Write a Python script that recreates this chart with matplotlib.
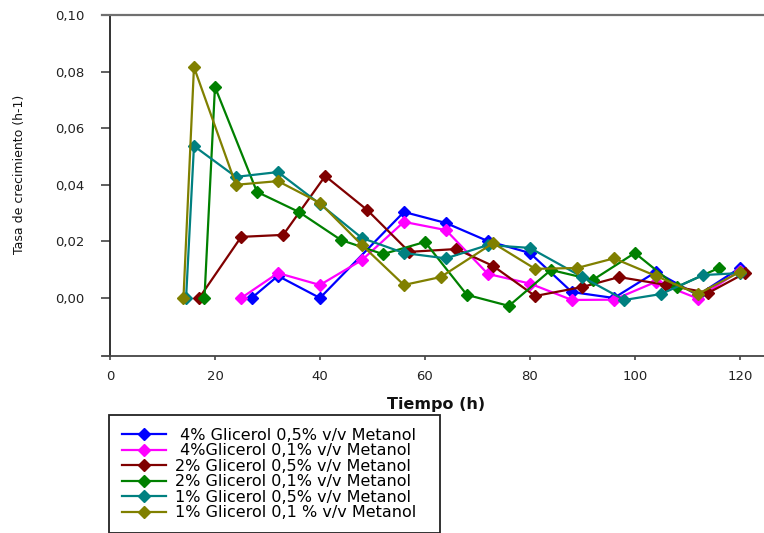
import matplotlib
matplotlib.use('Agg')
import matplotlib.pyplot as plt

# Tasa de crecimiento por condicion de cultivo
t_4g05 = [27, 32, 40, 56, 64, 72, 80, 88, 96, 104, 112, 120]
mu_4g05 = [0.0, 0.0078, 0.0, 0.0304, 0.0265, 0.0201, 0.0159, 0.0021, 0.0, 0.0092, 0.001, 0.0106]

t_4g01 = [25, 32, 40, 48, 56, 64, 72, 80, 88, 96, 104, 112, 120]
mu_4g01 = [0.0, 0.0088, 0.0046, 0.0134, 0.0269, 0.0240, 0.0085, 0.0051, -0.0007, -0.0006, 0.0057, -0.0002, 0.0097]

t_2g05 = [17, 25, 33, 41, 49, 57, 66, 73, 81, 90, 97, 106, 114, 121]
mu_2g05 = [0.0, 0.0216, 0.0223, 0.0431, 0.0311, 0.0163, 0.0173, 0.0113, 0.0007, 0.0039, 0.0074, 0.0046, 0.0018, 0.0088]

t_2g01 = [18, 20, 28, 36, 44, 52, 60, 68, 76, 84, 92, 100, 108, 116]
mu_2g01 = [0.0, 0.0746, 0.0375, 0.0304, 0.0205, 0.0155, 0.0198, 0.0011, -0.0028, 0.0099, 0.0064, 0.0159, 0.0039, 0.0106]

t_1g05 = [14.5, 16, 24, 32, 40, 48, 56, 64, 72, 80, 90, 98, 105, 113, 120]
mu_1g05 = [0.0, 0.0537, 0.0428, 0.0445, 0.0332, 0.0212, 0.0159, 0.0140, 0.0187, 0.0177, 0.0074, -0.0007, 0.0014, 0.0081, 0.0088]

t_1g01 = [14, 16, 24, 32, 40, 48, 56, 63, 73, 81, 89, 96, 104, 112, 120]
mu_1g01 = [0.0, 0.0816, 0.040, 0.0413, 0.0336, 0.0187, 0.0046, 0.0074, 0.0194, 0.0103, 0.0106, 0.0140, 0.0078, 0.0014, 0.0092]

etiquetas = [' 4% Glicerol 0,5% v/v Metanol',
             ' 4%Glicerol 0,1% v/v Metanol',
             '2% Glicerol 0,5% v/v Metanol',
             '2% Glicerol 0,1% v/v Metanol',
             '1% Glicerol 0,5% v/v Metanol',
             '1% Glicerol 0,1 % v/v Metanol']
colores = ['#0000ff', '#ff00ff', '#800000', '#008000', '#008080', '#808000']

series = [(t_4g05, mu_4g05), (t_4g01, mu_4g01), (t_2g05, mu_2g05),
          (t_2g01, mu_2g01), (t_1g05, mu_1g05), (t_1g01, mu_1g01)]

W, H = 764, 533
fig = plt.figure(figsize=(W / 100, H / 100), dpi=100)
ax = fig.add_axes([102 / W, 1 - 356 / H, (764 - 102) / W, (356 - 15) / H])

for (t, mu), lab, c in zip(series, etiquetas, colores):
    ax.plot(t, mu, color=c, marker='D', markersize=6.5, linewidth=1.6, label=lab)

ax.set_xlim(-1.52, 124.6)
ax.set_ylim(-0.0205, 0.10)
ax.set_xticks([0, 20, 40, 60, 80, 100, 120])
ax.set_yticks([0.0, 0.02, 0.04, 0.06, 0.08, 0.10])
ax.set_yticklabels(['0,00', '0,02', '0,04', '0,06', '0,08', '0,10'])

ax.spines['right'].set_visible(False)
ax.spines['left'].set_position(('data', 0))
ax.spines['left'].set_color('#222222')
ax.spines['left'].set_linewidth(1.3)
ax.spines['bottom'].set_color('#444444')
ax.spines['bottom'].set_linewidth(1.3)
ax.spines['top'].set_color('#707070')
ax.spines['top'].set_linewidth(1.6)

ax.tick_params(axis='x', direction='out', length=3, width=1.2, pad=7,
               labelsize=9.5, labelcolor='#222222', color='#444444')
ax.tick_params(axis='y', direction='out', length=6.5, width=1.2, pad=12,
               labelsize=9.5, labelcolor='#222222', color='#444444')

ax.set_xlabel('Tiempo (h)', fontsize=11.5, fontweight='bold', va='center', color='#111111')
ax.xaxis.set_label_coords((436 - 102) / 662, (356 - 404) / 341)
ax.set_ylabel('Tasa de crecimiento (h-1)', fontsize=9, va='center', color='#111111')
ax.yaxis.set_label_coords((20 - 102) / 662, (356 - 174) / 341)

leg = ax.legend(loc='upper left', bbox_to_anchor=(109 / W, 0, (440 - 109) / W, 1 - 415 / H),
                bbox_transform=fig.transFigure, mode='expand', borderaxespad=0,
                fontsize=11.5, labelspacing=0.03, handlelength=2.75, handletextpad=0.56,
                borderpad=0.8, fancybox=False, framealpha=1, edgecolor='#222222')
leg.get_frame().set_linewidth(1.3)

fig.savefig('out.png', dpi=100)
